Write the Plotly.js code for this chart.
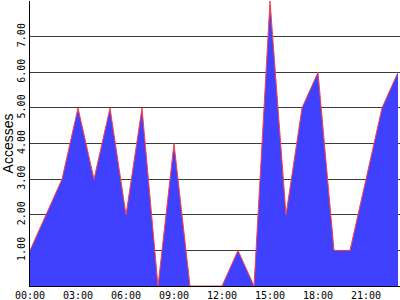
<!DOCTYPE html>
<html>
<head>
<meta charset="utf-8">
<script src="https://cdn.plot.ly/plotly-3.0.1.min.js"></script>
<style>html,body{margin:0;padding:0;background:#fff;}#chart{width:400px;height:300px;}</style>
</head>
<body>
<div id="chart"></div>
<script>
const hours = [0,1,2,3,4,5,6,7,8,9,10,11,12,13,14,15,16,17,18,19,20,21,22,23];
const accesses = [1,2,3,5,3,5,2,5,0,4,0,0,0,1,0,8,2,5,6,1,1,3,5,6];
const xTickVals = [0,3,6,9,12,15,18,21];
const xTickText = ["00:00","03:00","06:00","09:00","12:00","15:00","18:00","21:00"];
const yTickVals = [1,2,3,4,5,6,7,8];
const yTickText = ["1.00","2.00","3.00","4.00","5.00","6.00","7.00",""];

const trace = {
  x: hours, y: accesses, type: 'scatter', mode: 'lines',
  fill: 'tozeroy', fillcolor: '#4040ff',
  line: {color: '#ff4040', width: 1, shape: 'linear'},
  hoverinfo: 'none'
};
const layout = {
  width: 400, height: 300,
  margin: {l: 30, r: 0, t: 1, b: 14, pad: 0},
  paper_bgcolor: '#ffffff', plot_bgcolor: '#ffffff',
  showlegend: false,
  xaxis: {
    range: [0, 23.125], tickvals: xTickVals, ticktext: xTickText,
    showgrid: false, zeroline: false, showline: true, linecolor: '#000', linewidth: 1,
    ticks: '', tickfont: {family: 'DejaVu Sans Mono', size: 10, color: '#000'},
    ticklabelstandoff: 0
  },
  yaxis: {
    range: [0, 8], tickvals: yTickVals, ticktext: yTickText, tickangle: -90,
    showgrid: true, gridcolor: '#3c3c3c', gridwidth: 1,
    zeroline: false, showline: true, linecolor: '#000', linewidth: 1,
    ticks: '', tickfont: {family: 'DejaVu Sans Mono', size: 10, color: '#000'},
    title: {text: 'Accesses', font: {family: 'Liberation Sans', size: 14, color: '#000'}, standoff: 2}
  }
};
Plotly.newPlot('chart', [trace], layout, {staticPlot: true, displayModeBar: false});
</script>
</body>
</html>
